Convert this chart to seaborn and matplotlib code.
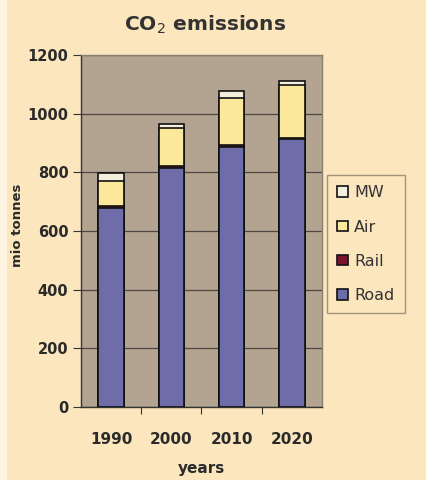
import matplotlib
matplotlib.use("Agg")
import matplotlib.pyplot as plt
import seaborn as sns
import pandas as pd
import numpy as np
from matplotlib.patches import Patch, Rectangle

years = ["1990", "2000", "2010", "2020"]
road = [680, 815, 888, 912]
rail = [5, 5, 5, 5]
air = [85, 130, 160, 180]
mw = [27, 15, 25, 15]

series_names = ["Road", "Rail", "Air", "MW"]
series_vals = [road, rail, air, mw]
colors = {"Road": "#6E6DAA", "Rail": "#7A1530", "Air": "#FBE89A", "MW": "#F4EEDC"}

sns.set_theme(style="white")
plt.rcParams["font.family"] = ["DejaVu Sans"]

fig_bg = "#FCE6BE"
ax_bg = "#B2A491"

fig = plt.figure(figsize=(4.26, 4.8), dpi=100, facecolor=fig_bg)
fig.patches.append(Rectangle((0, 0), 7 / 426, 1, transform=fig.transFigure,
                             facecolor="#FFF4E2", edgecolor="none", zorder=0))
ax = fig.add_axes([81 / 426, 1 - 407 / 480, (322 - 81) / 426, (407 - 55) / 480])
ax.set_facecolor(ax_bg)

cum = np.cumsum(np.array(series_vals), axis=0)
# draw from top of stack down so lower segments overlay
for i in range(len(series_names) - 1, -1, -1):
    df = pd.DataFrame({"year": years, "value": cum[i]})
    sns.barplot(data=df, x="year", y="value", color=colors[series_names[i]],
                width=0.42, edgecolor="#111111", linewidth=1.2, ax=ax,
                saturation=1, zorder=3)

ax.set_ylim(0, 1200)
ax.set_yticks(range(0, 1201, 200))
ax.set_xlim(-0.5, 3.5)
ax.yaxis.grid(True, color="#4e4640", linewidth=0.9, zorder=0)
ax.set_axisbelow(True)
for s in ["top", "right"]:
    ax.spines[s].set_color("#8a7f70")
    ax.spines[s].set_linewidth(1.0)
for s in ["left", "bottom"]:
    ax.spines[s].set_color("#333333")
    ax.spines[s].set_linewidth(1.0)

ax.tick_params(axis="y", left=True, length=6, width=0.8, color="#333333",
               labelsize=10.5, pad=3)
ax.tick_params(axis="x", bottom=False, labelsize=11, pad=12)
ax.set_xticks([0.5, 1.5, 2.5], minor=True)
ax.tick_params(axis="x", which="minor", bottom=True, length=5, width=0.8, color="#333333")
for lab in ax.get_xticklabels() + ax.get_yticklabels():
    lab.set_fontweight("bold")
    lab.set_color("#2a2a2a")

ax.set_xlabel("years", fontsize=11, fontweight="bold", color="#2a2a2a", labelpad=10)
ax.set_ylabel("mio tonnes", fontsize=9.5, fontweight="bold", color="#2a2a2a")
ax.yaxis.set_label_coords((24 - 81) / 241, (407 - 225) / 352)
fig.suptitle("CO$_2$ emissions", x=205 / 426, y=1 - 25 / 480,
             fontsize=14.5, fontweight="bold", color="#333333", va="center")

handles = [Patch(facecolor=colors[n], edgecolor="#111111", linewidth=1.2, label=n)
           for n in reversed(series_names)]
leg = fig.legend(handles=handles, loc="upper left",
                 bbox_to_anchor=(327 / 426, 1 - 175 / 480),
                 frameon=True, fontsize=11.5, handlelength=0.65, handleheight=0.65,
                 labelspacing=1.2, borderpad=0.65, handletextpad=0.4,
                 borderaxespad=0, fancybox=False)
leg.get_frame().set_facecolor(fig_bg)
leg.get_frame().set_edgecolor("#8a7f70")
for t in leg.get_texts():
    t.set_color("#333333")

fig.savefig("out.png", dpi=100, facecolor=fig_bg)
